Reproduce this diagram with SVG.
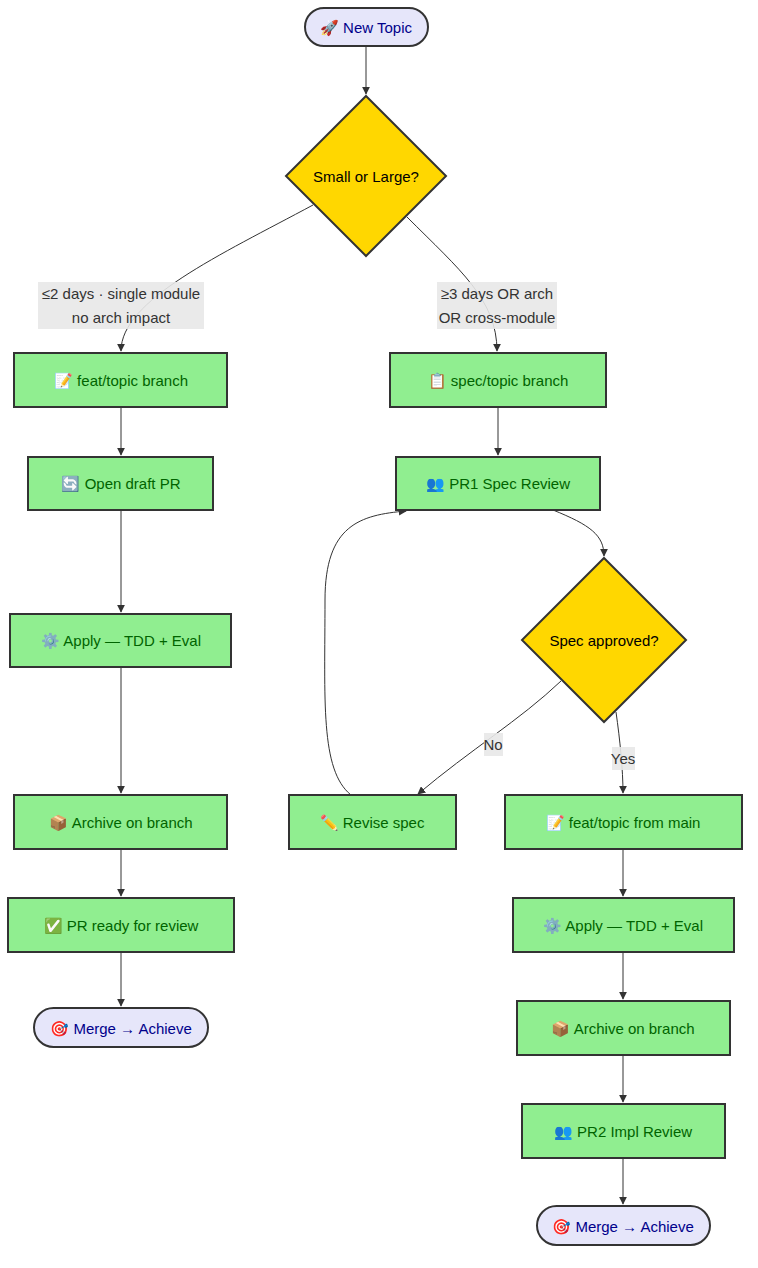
<svg xmlns="http://www.w3.org/2000/svg" width="758" height="1268" viewBox="0 0 758 1268">
<style>
text{font-family:"Liberation Sans","DejaVu Sans",sans-serif;font-size:15px;text-anchor:middle;dominant-baseline:central}
.box rect{fill:#90EE90;stroke:#333;stroke-width:2}
.box text{fill:#006400}
.term rect{fill:#E6E6FA;stroke:#333;stroke-width:2}
.term text{fill:#00008B}
.dec polygon{fill:#FFD700;stroke:#333;stroke-width:2}
.dec text{fill:#000}
#edges path{fill:none;stroke:#333;stroke-width:1}
.lbl rect{fill:#e8e8e8;opacity:0.9}
.lbl text{fill:#333}
</style>
<defs><marker id="a" viewBox="0 0 10 10" refX="9" refY="5" markerWidth="8" markerHeight="8" orient="auto"><path d="M0,0L10,5L0,10z" fill="#333"/></marker></defs>
<g id="edges">
<path d="M366,46V94" marker-end="url(#a)"/>
<path d="M313,205C220,255 121,300 121,351" marker-end="url(#a)"/>
<path d="M407,217C460,270 497,300 497,351" marker-end="url(#a)"/>
<path d="M121,407V455" marker-end="url(#a)"/>
<path d="M498,407V455" marker-end="url(#a)"/>
<path d="M121,510V612" marker-end="url(#a)"/>
<path d="M121,667V793" marker-end="url(#a)"/>
<path d="M121,849V896" marker-end="url(#a)"/>
<path d="M121,952V1006" marker-end="url(#a)"/>
<path d="M553,510C590,525 604,535 604,556" marker-end="url(#a)"/>
<path d="M561,681C520,720 470,750 418,794" marker-end="url(#a)"/>
<path d="M616,712C620,740 623,770 623,793" marker-end="url(#a)"/>
<path d="M351,795C320,770 325,700 325,600C325,525 360,515 406,511" marker-end="url(#a)"/>
<path d="M623,849V896" marker-end="url(#a)"/>
<path d="M623,952V999" marker-end="url(#a)"/>
<path d="M623,1055V1102" marker-end="url(#a)"/>
<path d="M623,1158V1204" marker-end="url(#a)"/>
</g>
<g class="lbl" id="l1"><rect x="38" y="282" width="166" height="47"/><text x="121" y="293">≤2 days · single module</text><text x="121" y="317">no arch impact</text></g>
<g class="lbl" id="l2"><rect x="437" y="282" width="120" height="47"/><text x="497" y="293">≥3 days OR arch</text><text x="497" y="317">OR cross-module</text></g>
<g class="lbl" id="l3"><rect x="484" y="733" width="19" height="23"/><text x="493" y="744">No</text></g>
<g class="lbl" id="l4"><rect x="612" y="747" width="23" height="23"/><text x="623" y="758">Yes</text></g>
<g class="term" id="n1"><rect x="305" y="8" width="123" height="38" rx="19"/><text x="366" y="27">🚀 New Topic</text></g>
<g class="dec" id="n2"><polygon points="366,96 446,176 366,256 286,176"/><text x="366" y="176">Small or Large?</text></g>
<g class="box" id="n3"><rect x="14" y="353" width="213" height="54"/><text x="121" y="380">📝 feat/topic branch</text></g>
<g class="box" id="n4"><rect x="390" y="353" width="216" height="54"/><text x="498" y="380">📋 spec/topic branch</text></g>
<g class="box" id="n5"><rect x="28" y="457" width="185" height="53"/><text x="121" y="483">🔄 Open draft PR</text></g>
<g class="box" id="n6"><rect x="396" y="457" width="204" height="53"/><text x="498" y="483">👥 PR1 Spec Review</text></g>
<g class="box" id="n7"><rect x="10" y="614" width="221" height="53"/><text x="121" y="640">⚙️ Apply — TDD + Eval</text></g>
<g class="dec" id="n8"><polygon points="604,558 686,640 604,722 522,640"/><text x="604" y="640">Spec approved?</text></g>
<g class="box" id="n9"><rect x="14" y="795" width="213" height="54"/><text x="121" y="822">📦 Archive on branch</text></g>
<g class="box" id="n10"><rect x="289" y="795" width="167" height="54"/><text x="372" y="822">✏️ Revise spec</text></g>
<g class="box" id="n11"><rect x="505" y="795" width="237" height="54"/><text x="623" y="822">📝 feat/topic from main</text></g>
<g class="box" id="n12"><rect x="8" y="898" width="226" height="54"/><text x="121" y="925">✅ PR ready for review</text></g>
<g class="box" id="n13"><rect x="513" y="898" width="221" height="54"/><text x="623" y="925">⚙️ Apply — TDD + Eval</text></g>
<g class="term" id="n14"><rect x="34" y="1008" width="174" height="39" rx="19.5"/><text x="121" y="1028">🎯 Merge → Achieve</text></g>
<g class="box" id="n15"><rect x="517" y="1001" width="213" height="54"/><text x="623" y="1028">📦 Archive on branch</text></g>
<g class="box" id="n16"><rect x="522" y="1104" width="203" height="54"/><text x="623" y="1131">👥 PR2 Impl Review</text></g>
<g class="term" id="n17"><rect x="537" y="1206" width="173" height="39" rx="19.5"/><text x="623" y="1226">🎯 Merge → Achieve</text></g>
</svg>
